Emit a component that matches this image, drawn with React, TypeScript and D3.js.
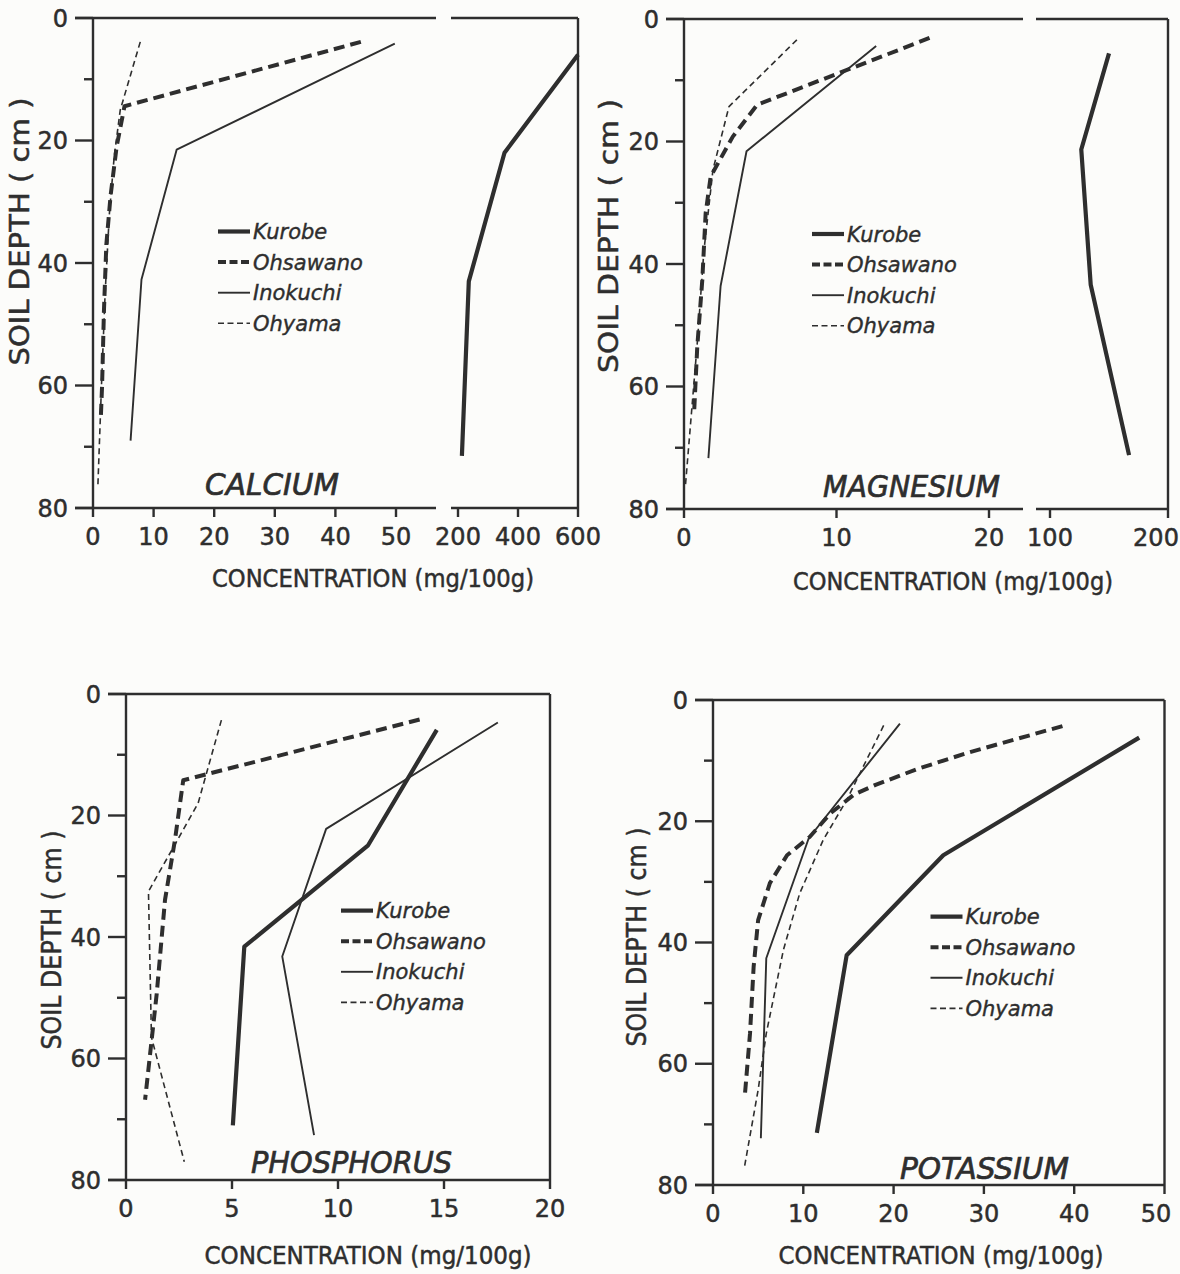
import React, { useRef, useEffect } from 'react';
import * as d3 from 'd3';

// soil profiles: [concentration mg/100g, depth cm]
const stations = ['Kurobe', 'Ohsawano', 'Inokuchi', 'Ohyama'];

const calciumKurobe = [[600, 6], [355, 22], [236, 43], [213, 71.5]];
const calciumOhsawano = [[44.2, 3.9], [5.2, 14.4], [3.9, 21], [2.9, 29], [2.2, 37], [1.8, 48], [1.5, 60], [1.3, 65]];
const calciumInokuchi = [[49.8, 4.2], [13.8, 21.5], [8.0, 42.7], [6.2, 69]];
const calciumOhyama = [[7.8, 3.9], [4.5, 15], [3.5, 22.6], [2.7, 32], [2.0, 45], [1.4, 60], [0.8, 76.5]];

const magnesiumKurobe = [[150, 5.6], [126.5, 21.3], [134.5, 43.4], [167, 71.2]];
const magnesiumOhsawano = [[16.1, 3.1], [4.8, 14], [3.2, 19.2], [1.75, 25.7], [1.42, 31.7], [1.2, 42.6], [0.87, 53.5], [0.66, 64.4]];
const magnesiumInokuchi = [[12.6, 4.4], [4.1, 21.6], [2.4, 43.6], [1.6, 71.7]];
const magnesiumOhyama = [[7.4, 3.4], [2.95, 14.3], [1.9, 24.6], [1.3, 38], [0.9, 52], [0.5, 64], [0.1, 76]];

const phosphorusKurobe = [[14.66, 5.9], [11.42, 24.9], [5.58, 41.6], [5.04, 71]];
const phosphorusOhsawano = [[13.85, 4.2], [2.7, 14.2], [2.31, 24], [1.84, 33.9], [1.45, 49.3], [0.9, 66.8]];
const phosphorusInokuchi = [[17.54, 4.7], [9.44, 22.2], [7.37, 43.2], [8.87, 72.6]];
const phosphorusOhyama = [[4.5, 4.3], [3.4, 18], [1.06, 32.5], [1.2, 56.5], [2.75, 77]];

const potassiumKurobe = [[47.2, 6.2], [25.5, 25.6], [14.8, 42.1], [11.5, 71.4]];
const potassiumOhsawano = [[38.7, 4.3], [28, 8.8], [22.6, 11.4], [18, 14], [15.6, 15.6], [13, 18.7], [10.7, 22.6], [8.2, 25.6], [6.3, 30.2], [5, 36.3], [4.5, 44], [4.1, 55], [3.5, 65.7]];
const potassiumInokuchi = [[20.7, 3.9], [10.6, 22.8], [5.9, 42.6], [5.3, 72.3]];
const potassiumOhyama = [[18.9, 4.2], [14.8, 16.5], [12.2, 23.1], [9.6, 31.9], [7.8, 41.2], [5.9, 55], [5.0, 64.3], [3.5, 76.9]];

const depthTicks = [0, 20, 40, 60, 80];
const depthMinorTicks = [10, 30, 50, 70];
const calciumLowTicks = [0, 10, 20, 30, 40, 50];
const calciumHighTicks = [200, 400, 600];
const magnesiumLowTicks = [0, 10, 20];
const magnesiumHighTicks = [100, 200];
const phosphorusTicks = [0, 5, 10, 15, 20];
const potassiumTicks = [0, 10, 20, 30, 40, 50];

const INK = '#2e2e2e';
const FONT = '"DejaVu Sans", Verdana, sans-serif';
const W = 1180;

const lineStyle = {
  Kurobe: { w: 4.2, dash: null, legendDash: null },
  Ohsawano: { w: 4, dash: '11,6', legendDash: '8,3.5' },
  Inokuchi: { w: 1.9, dash: null, legendDash: null },
  Ohyama: { w: 1.6, dash: '6,4', legendDash: '6,3.5' },
};

const panels = [
  {
    title: 'CALCIUM',
    series: [calciumKurobe, calciumOhsawano, calciumInokuchi, calciumOhyama],
    xLow: d3.scaleLinear().domain([0, 50]).range([93, 396]),
    xHigh: d3.scaleLinear().domain([200, 600]).range([458, 578]),
    split: 100,
    lowTicks: calciumLowTicks,
    highTicks: calciumHighTicks,
    gap: [436, 451],
    right: 578,
    y: d3.scaleLinear().domain([0, 80]).range([18, 508]),
    titlePos: { x: 205, y: 495, len: 134 },
    legendPos: { x: 218, y: 231.5 },
    yLabel: { x: 28.5, y: 231.5, len: 268 },
    xLabel: { x: 373, y: 587, len: 322 },
  },
  {
    title: 'MAGNESIUM',
    series: [magnesiumKurobe, magnesiumOhsawano, magnesiumInokuchi, magnesiumOhyama],
    xLow: d3.scaleLinear().domain([0, 20]).range([684, 989]),
    xHigh: d3.scaleLinear().domain([100, 200]).range([1050, 1168]),
    split: 50,
    lowTicks: magnesiumLowTicks,
    highTicks: magnesiumHighTicks,
    gap: [1023, 1036],
    right: 1168,
    y: d3.scaleLinear().domain([0, 80]).range([19, 509]),
    titlePos: { x: 823, y: 497, len: 177 },
    legendPos: { x: 812, y: 234 },
    yLabel: { x: 618, y: 236, len: 274 },
    xLabel: { x: 953, y: 590, len: 320 },
  },
  {
    title: 'PHOSPHORUS',
    series: [phosphorusKurobe, phosphorusOhsawano, phosphorusInokuchi, phosphorusOhyama],
    xLow: d3.scaleLinear().domain([0, 20]).range([126, 550]),
    xHigh: null,
    split: Infinity,
    lowTicks: phosphorusTicks,
    highTicks: [],
    gap: null,
    right: 550,
    y: d3.scaleLinear().domain([0, 80]).range([694, 1180]),
    titlePos: { x: 251, y: 1173, len: 201 },
    legendPos: { x: 341, y: 910.6 },
    yLabel: { x: 61, y: 940, len: 219 },
    xLabel: { x: 368, y: 1264, len: 327 },
  },
  {
    title: 'POTASSIUM',
    series: [potassiumKurobe, potassiumOhsawano, potassiumInokuchi, potassiumOhyama],
    xLow: d3.scaleLinear().domain([0, 50]).range([713, 1164.5]),
    xHigh: null,
    split: Infinity,
    lowTicks: potassiumTicks,
    highTicks: [],
    gap: null,
    right: 1164.5,
    y: d3.scaleLinear().domain([0, 80]).range([700, 1185]),
    titlePos: { x: 900, y: 1179, len: 169 },
    legendPos: { x: 930.5, y: 916.6 },
    yLabel: { x: 646, y: 937, len: 219 },
    xLabel: { x: 941, y: 1264, len: 325 },
  },
];

// text in the lettering weight of the scan: a thin outline on top of the fill
function ink(sel, size, italic) {
  return sel
    .style('font-family', FONT)
    .style('font-size', `${size}px`)
    .style('font-style', italic ? 'italic' : 'normal')
    .attr('fill', INK)
    .attr('stroke', INK)
    .attr('stroke-width', 0.5);
}

function drawPanel(svg, p) {
  const g = svg.append('g');
  const x = (v) => (v <= p.split ? p.xLow(v) : p.xHigh(v));
  const y = p.y;
  const x0 = p.xLow(0);
  const top = y(0);
  const bottom = y(80);

  const frame = g.append('g')
    .attr('stroke', INK)
    .attr('stroke-width', 2.4)
    .attr('fill', 'none');

  // top and bottom edges, broken where the scale jumps
  [top, bottom].forEach((yy) => {
    const segs = p.gap
      ? [[x0 - 18, p.gap[0]], [p.gap[1], p.right]]
      : [[x0 - 18, p.right]];
    segs.forEach(([a, b]) => {
      frame.append('line').attr('x1', a).attr('x2', b).attr('y1', yy).attr('y2', yy);
    });
  });
  frame.append('line').attr('x1', x0).attr('x2', x0).attr('y1', top).attr('y2', bottom);
  frame.append('line').attr('x1', p.right).attr('x2', p.right).attr('y1', top).attr('y2', bottom);

  // depth ticks
  depthTicks.forEach((d) => {
    frame.append('line').attr('x1', x0 - 18).attr('x2', x0).attr('y1', y(d)).attr('y2', y(d));
  });
  depthMinorTicks.forEach((d) => {
    frame.append('line').attr('x1', x0 - 9).attr('x2', x0).attr('y1', y(d)).attr('y2', y(d));
  });
  ink(g.selectAll('text.ytick')
    .data(depthTicks)
    .enter().append('text')
    .attr('class', 'ytick')
    .attr('x', x0 - 25)
    .attr('y', (d) => y(d))
    .attr('dy', '0.36em')
    .attr('text-anchor', 'end'), 24)
    .text((d) => d);

  // concentration ticks
  const xt = p.lowTicks.concat(p.highTicks);
  xt.forEach((v) => {
    frame.append('line').attr('x1', x(v)).attr('x2', x(v)).attr('y1', bottom).attr('y2', bottom + 9);
  });
  ink(g.selectAll('text.xtick')
    .data(xt)
    .enter().append('text')
    .attr('class', 'xtick')
    .attr('x', (v) => Math.min(x(v), W - 24))
    .attr('y', bottom + 37)
    .attr('text-anchor', 'middle'), 24)
    .text((v) => v);

  // axis titles
  ink(g.append('text')
    .attr('transform', `translate(${p.yLabel.x},${p.yLabel.y}) rotate(-90)`)
    .attr('text-anchor', 'middle')
    .attr('textLength', p.yLabel.len)
    .attr('lengthAdjust', 'spacingAndGlyphs'), 26)
    .text('SOIL DEPTH ( cm )');

  ink(g.append('text')
    .attr('x', p.xLabel.x)
    .attr('y', p.xLabel.y)
    .attr('text-anchor', 'middle')
    .attr('textLength', p.xLabel.len)
    .attr('lengthAdjust', 'spacingAndGlyphs'), 24)
    .text('CONCENTRATION (mg/100g)');

  ink(g.append('text')
    .attr('x', p.titlePos.x)
    .attr('y', p.titlePos.y)
    .attr('textLength', p.titlePos.len)
    .attr('lengthAdjust', 'spacingAndGlyphs'), 30, true)
    .attr('stroke-width', 0.7)
    .text(p.title);

  // profiles
  const line = d3.line().x((d) => x(d[0])).y((d) => y(d[1]));
  p.series.forEach((pts, i) => {
    const st = lineStyle[stations[i]];
    g.append('path')
      .datum(pts)
      .attr('d', line)
      .attr('fill', 'none')
      .attr('stroke', INK)
      .attr('stroke-width', st.w)
      .attr('stroke-linejoin', 'round')
      .attr('stroke-dasharray', st.dash);
  });

  // legend
  stations.forEach((s, i) => {
    const st = lineStyle[s];
    const ly = p.legendPos.y + i * 30.6;
    g.append('line')
      .attr('x1', p.legendPos.x)
      .attr('x2', p.legendPos.x + 32)
      .attr('y1', ly)
      .attr('y2', ly)
      .attr('stroke', INK)
      .attr('stroke-width', st.w)
      .attr('stroke-dasharray', st.legendDash);
    ink(g.append('text')
      .attr('x', p.legendPos.x + 35)
      .attr('y', ly)
      .attr('dy', '0.36em'), 21, true)
      .attr('stroke-width', 0.4)
      .text(s);
  });
}

const App = () => {
  const ref = useRef(null);

  useEffect(() => {
    const svg = d3.select(ref.current);
    svg.selectAll('*').remove();
    svg.append('rect').attr('width', W).attr('height', 1274).attr('fill', '#fcfcfa');
    panels.forEach((p) => drawPanel(svg, p));
  }, []);

  return (
    <svg
      ref={ref}
      width={W}
      height={1274}
      style={{ position: 'absolute', left: 0, top: 0, display: 'block' }}
    />
  );
};

export default App;
